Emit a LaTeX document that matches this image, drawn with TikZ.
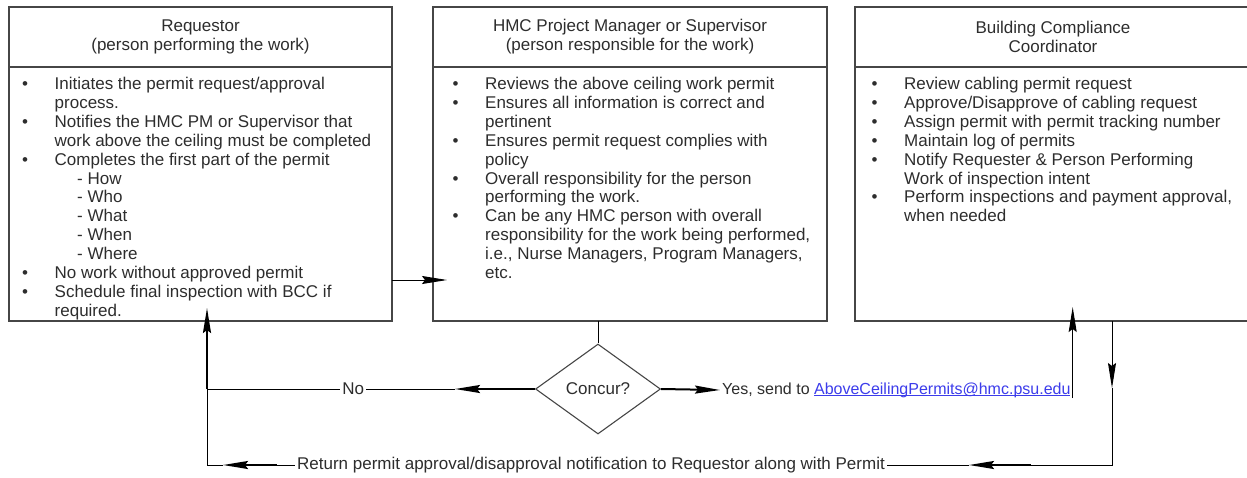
\documentclass[tikz,border=0pt]{standalone}
\usepackage{fontspec}
\setmainfont{Liberation Sans}
\usepackage{tikz}
\usetikzlibrary{positioning,arrows.meta,shapes.geometric}
\definecolor{ink}{RGB}{45,45,45}
\definecolor{rule}{RGB}{70,70,70}
\definecolor{mail}{RGB}{60,60,235}
\newlength{\bulw}
\setlength{\bulw}{32.5pt}
\newlength{\ulw}
\newcommand{\itm}{\makebox[\bulw][l]{\textbullet}}
\newcommand{\nxt}{\hspace*{\bulw}}
\newcommand{\dashitm}{\hspace*{55pt}- }
\newcommand{\mailaddr}[1]{\settowidth{\ulw}{#1}\textcolor{mail}{\rlap{\rule[-2.2pt]{\ulw}{1pt}}#1}}

\begin{document}
\begin{tikzpicture}[
  x=1pt,y=-1pt,
  font=\fontsize{17}{18.9}\selectfont,
  text=ink,
  panelhead/.style={draw=rule,line width=1.1pt,outer sep=0pt,inner sep=0pt,minimum height=60pt,align=center},
  panelbody/.style={draw=rule,line width=1.1pt,outer sep=0pt,inner sep=0pt,minimum height=254pt},
  items/.style={anchor=north west,inner sep=0pt,align=left},
  decision/.style={diamond,draw=rule,line width=1.1pt,inner sep=0pt,minimum width=125pt,minimum height=90pt},
  tag/.style={fill=white,inner sep=2pt},
  conn/.style={draw=black,line width=1pt},
  heavy/.style={line width=2pt},
  flow/.style={conn,-{Stealth[length=25pt,width=8pt,inset=3pt]}}
]
\path[use as bounding box] (0,0) rectangle (1247,477);
\clip (0,0) rectangle (1247,477);

% swim lanes
\node[panelhead,minimum width=383pt] (reqhead) at (200.5,37) {Requestor\\(person performing the work)};
\node[panelbody,minimum width=383pt,below=0pt of reqhead] (reqbody) {};
\node[panelhead,minimum width=394pt] (pmhead) at (630,37) {HMC Project Manager or Supervisor\\(person responsible for the work)};
\node[panelbody,minimum width=394pt,below=0pt of pmhead] (pmbody) {};
\node[panelhead,minimum width=396pt] (bcchead) at (1053,37) {Building Compliance\\Coordinator};
\node[panelbody,minimum width=396pt,below=0pt of bcchead] (bccbody) {};

\node[items] (reqitems) at ([xshift=13pt,yshift=-10pt]reqbody.north west) {%
\itm Initiates the permit request/approval\\
\nxt process.\\
\itm Notifies the HMC PM or Supervisor that\\
\nxt work above the ceiling must be completed\\
\itm Completes the first part of the permit\\
\dashitm How\\
\dashitm Who\\
\dashitm What\\
\dashitm When\\
\dashitm Where\\
\itm No work without approved permit\\
\itm Schedule final inspection with BCC if\\
\nxt required.};

\node[items] (pmitems) at ([xshift=19.5pt,yshift=-10pt]pmbody.north west) {%
\itm Reviews the above ceiling work permit\\
\itm Ensures all information is correct and\\
\nxt pertinent\\
\itm Ensures permit request complies with\\
\nxt policy\\
\itm Overall responsibility for the person\\
\nxt performing the work.\\
\itm Can be any HMC person with overall\\
\nxt responsibility for the work being performed,\\
\nxt i.e., Nurse Managers, Program Managers,\\
\nxt etc.};

\node[items] (bccitems) at ([xshift=16.5pt,yshift=-10pt]bccbody.north west) {%
\itm Review cabling permit request\\
\itm Approve/Disapprove of cabling request\\
\itm Assign permit with permit tracking number\\
\itm Maintain log of permits\\
\itm Notify Requester \& Person Performing\\
\nxt Work of inspection intent\\
\itm Perform inspections and payment approval,\\
\nxt when needed};

% decision and labels
\node[decision] (concur) at (598,389) {Concur?};
\node[tag,anchor=west,font=\fontsize{16}{18}\selectfont] (yesnote) at (720,390) {Yes, send to \mailaddr{AboveCeilingPermits@hmc.psu.edu}};
\node[tag] (retnote) at (591,465) {Return permit approval/disapproval notification to Requestor along with Permit};

\coordinate (handoff) at (400,280);
\coordinate (nohead) at (455,389);
\coordinate (noturn) at (207,389);
\coordinate (retleft) at (207,465);
\coordinate (lefthead) at (223,465);
\coordinate (leftheavy) at (277,465);
\coordinate (retright) at (1112,465);
\coordinate (downhead) at (1112,388);
\coordinate (righthead) at (969,465);
\coordinate (rightheavy) at (1031,465);

% connectors
\draw[flow,shorten >=-14pt] (reqbody.east |- handoff) -- (pmbody.west |- handoff);
\draw[conn] (pmbody.south -| concur) -- (concur.north);
\draw[flow,heavy] (concur.west) -- (nohead);
\draw[conn] (nohead) -- node[tag,pos=0.41] (nolbl) {No} (noturn);
\draw[conn] (retleft) -- (noturn);
\draw[flow,heavy,shorten >=-13pt] (noturn) -- (reqbody.south -| noturn);
\draw[flow,heavy] (concur.east) -- (yesnote.west);
\draw[flow,shorten >=-14pt] ([yshift=-8pt]yesnote.east) -- (yesnote.east |- bccbody.south);
\draw[flow] (bccbody.south -| retright) -- (downhead);
\draw[conn] (downhead) -- (retright) -- (rightheavy);
\draw[flow,heavy] (rightheavy) -- (righthead);
\draw[conn] (righthead) -- (retnote.east);
\draw[conn] (retnote.west) -- (leftheavy);
\draw[flow,heavy] (leftheavy) -- (lefthead);
\draw[conn] (lefthead) -- (retleft);
\end{tikzpicture}
\end{document}
